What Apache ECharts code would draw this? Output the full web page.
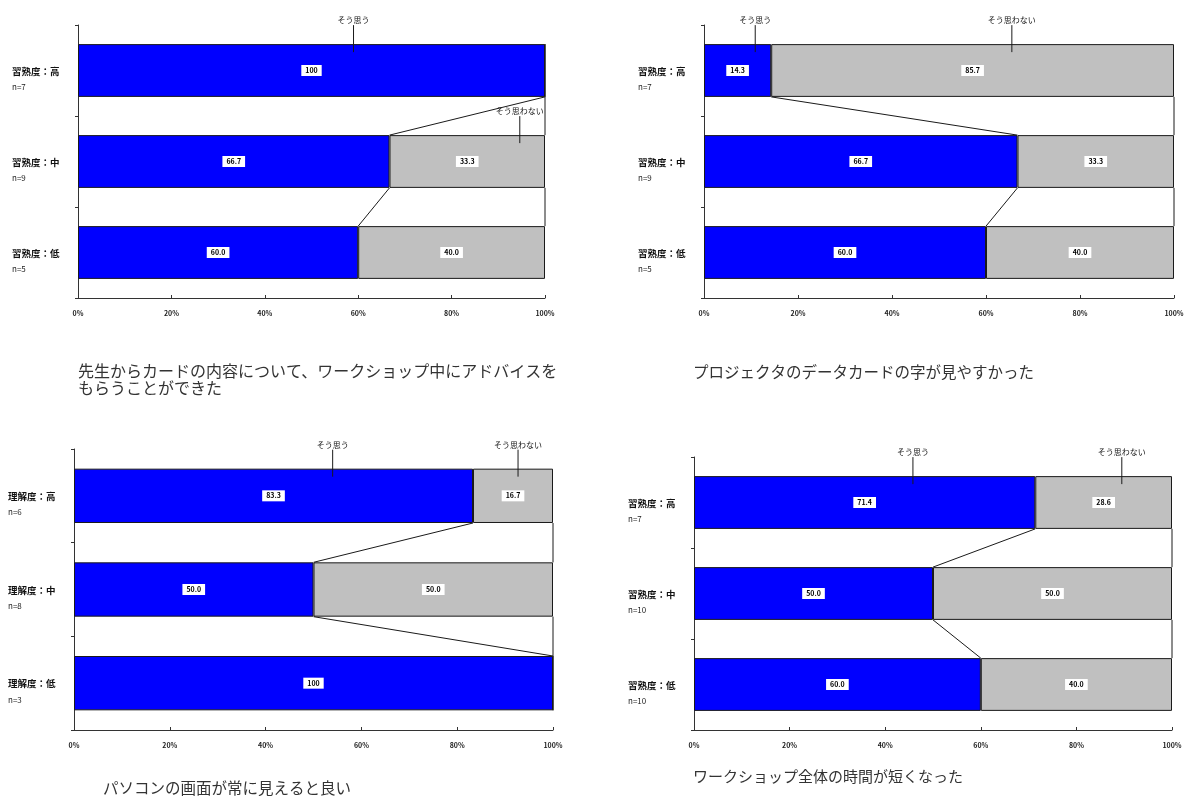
<!DOCTYPE html>
<html>
<head>
<meta charset="utf-8">
<script src="https://cdn.jsdelivr.net/npm/echarts@6/dist/echarts.min.js"></script>
<style>
  html, body { margin: 0; padding: 0; background: #fff; }
  #chart { width: 1189px; height: 796px; }
</style>
</head>
<body>
<div id="chart"></div>
<script>
// Group names and sample sizes
const levelsSkill = ['習熟度：高', '習熟度：中', '習熟度：低'];
const levelsUnderstanding = ['理解度：高', '理解度：中', '理解度：低'];
const sizes1 = ['n=7', 'n=9', 'n=5'];
const sizes2 = ['n=7', 'n=9', 'n=5'];
const sizes3 = ['n=6', 'n=8', 'n=3'];
const sizes4 = ['n=7', 'n=10', 'n=10'];

// Share of answers (%) per group: そう思う / そう思わない
const agree1 = [100, 66.7, 60.0];
const disagree1 = [0, 33.3, 40.0];
const agree2 = [14.3, 66.7, 60.0];
const disagree2 = [85.7, 33.3, 40.0];
const agree3 = [83.3, 50.0, 100];
const disagree3 = [16.7, 50.0, 0];
const agree4 = [71.4, 50.0, 60.0];
const disagree4 = [28.6, 50.0, 40.0];

const seriesNames = ['そう思う', 'そう思わない'];
const tickLabels = ['0%', '20%', '40%', '60%', '80%', '100%'];

const captions = [
  '先生からカードの内容について、ワークショップ中にアドバイスを\nもらうことができた',
  'プロジェクタのデータカードの字が見やすかった',
  'パソコンの画面が常に見えると良い',
  'ワークショップ全体の時間が短くなった'
];

// Plot areas of the four panels
const panels = [
  { grid: { left: 78, top: 25, width: 467, height: 273 }, cats: levelsSkill, sizes: sizes1, agree: agree1, disagree: disagree1,
    callouts: [[59, 0, 0], [94.6, 1, 1]], caption: { x: 78, y: 362, size: 16 } },
  { grid: { left: 704, top: 25, width: 470, height: 273 }, cats: levelsSkill, sizes: sizes2, agree: agree2, disagree: disagree2,
    callouts: [[10.9, 0, 0], [65.5, 0, 1]], caption: { x: 693, y: 364, size: 15.5 } },
  { grid: { left: 74, top: 449, width: 479, height: 281 }, cats: levelsUnderstanding, sizes: sizes3, agree: agree3, disagree: disagree3,
    callouts: [[54, 0, 0], [92.7, 0, 1]], caption: { x: 103, y: 780, size: 15.5 } },
  { grid: { left: 694, top: 457, width: 478, height: 273 }, cats: levelsSkill, sizes: sizes4, agree: agree4, disagree: disagree4,
    callouts: [[45.8, 0, 0], [89.5, 0, 1]], caption: { x: 693, y: 768, size: 15 } }
];

const BAR_RATIO = 0.58;
const BLUE = '#0000FF';
const GRAY = '#C0C0C0';
const LINE = '#1a1a1a';
const JP = '"Noto Sans CJK JP", "Noto Sans", sans-serif';

function fmt(v) { return v === 100 ? '100' : v.toFixed(1); }

function barData(values) {
  return values.map(v => v === 0 ? { value: 0, label: { show: false } } : { value: v });
}

const grid = [], xAxis = [], yAxis = [], series = [], graphic = [];

panels.forEach((p, k) => {
  grid.push(Object.assign({ containLabel: false }, p.grid));
  xAxis.push({
    gridIndex: k, type: 'value', min: 0, max: 100, interval: 20,
    axisLine: { show: true, lineStyle: { color: '#333', width: 1 } },
    axisTick: { show: true, inside: true, length: 3, lineStyle: { color: '#333' } },
    splitLine: { show: false },
    axisLabel: {
      margin: 12, fontSize: 7, fontWeight: 'bold', color: '#222', fontFamily: JP,
      formatter: v => tickLabels[Math.round(v / 20)]
    }
  });
  yAxis.push({
    gridIndex: k, type: 'category', inverse: true, data: p.cats,
    axisLine: { show: true, lineStyle: { color: '#333', width: 1 } },
    axisTick: { show: true, length: 3, lineStyle: { color: '#333' } },
    axisLabel: {
      align: 'left', margin: 66, padding: [16, 0, 0, 0],
      formatter: (v, i) => '{a|' + v + '}\n{b|' + p.sizes[i] + '}',
      rich: {
        a: { fontSize: 9.5, fontWeight: 'bold', color: '#111', fontFamily: JP, lineHeight: 17 },
        b: { fontSize: 8, color: '#222', fontFamily: JP, lineHeight: 15 }
      }
    }
  });

  const labelCfg = {
    show: true, position: 'inside', formatter: d => fmt(d.value),
    backgroundColor: '#fff', padding: [2, 4], fontSize: 7, fontWeight: 'bold', color: '#000', fontFamily: JP
  };
  const stack = 'total' + k;
  series.push({
    name: seriesNames[0], type: 'bar', stack, xAxisIndex: k, yAxisIndex: k,
    barWidth: (BAR_RATIO * 100) + '%', data: barData(p.agree),
    itemStyle: { color: BLUE, borderColor: LINE, borderWidth: 1 },
    label: labelCfg, silent: true, animation: false
  });
  series.push({
    name: seriesNames[1], type: 'bar', stack, xAxisIndex: k, yAxisIndex: k,
    barWidth: (BAR_RATIO * 100) + '%', data: barData(p.disagree),
    itemStyle: { color: GRAY, borderColor: LINE, borderWidth: 1 },
    label: labelCfg, silent: true, animation: false
  });

  // Series lines joining the segment ends of neighbouring bars
  const joins = [];
  for (let i = 0; i < p.agree.length - 1; i++) {
    joins.push([p.agree[i], i, p.agree[i + 1]]);
    joins.push([p.agree[i] + p.disagree[i], i, p.agree[i + 1] + p.disagree[i + 1]]);
  }
  series.push({
    type: 'custom', xAxisIndex: k, yAxisIndex: k, data: joins, clip: false, z: 5,
    encode: { x: [0, 2], y: 1 }, silent: true, animation: false,
    renderItem: (params, api) => {
      const i = api.value(1);
      const a = api.coord([api.value(0), i]);
      const b = api.coord([api.value(2), i + 1]);
      const h = api.size([0, 1])[1] * BAR_RATIO / 2;
      return {
        type: 'line',
        shape: { x1: a[0], y1: a[1] + h, x2: b[0], y2: b[1] - h },
        style: { stroke: LINE, lineWidth: 1 }
      };
    }
  });

  // Series name callouts with leader lines
  series.push({
    type: 'custom', xAxisIndex: k, yAxisIndex: k, data: p.callouts, clip: false, z: 6,
    encode: { x: 0, y: 1 }, silent: true, animation: false,
    renderItem: (params, api) => {
      const pt = api.coord([api.value(0), api.value(1)]);
      const top = pt[1] - api.size([0, 1])[1] * BAR_RATIO / 2;
      const name = seriesNames[api.value(2)];
      return {
        type: 'group',
        children: [
          { type: 'line', shape: { x1: pt[0], y1: top - 19, x2: pt[0], y2: top + 8 },
            style: { stroke: LINE, lineWidth: 1 } },
          { type: 'text', x: pt[0], y: top - 20,
            style: { text: name, fontSize: 8, fill: '#111', fontFamily: JP, align: 'center', verticalAlign: 'bottom' } }
        ]
      };
    }
  });

  graphic.push({
    type: 'text', left: p.caption.x, top: p.caption.y,
    style: { text: captions[k], fontSize: p.caption.size, lineHeight: 17, fill: '#333', fontFamily: JP }
  });
});

const chart = echarts.init(document.getElementById('chart'), null, { renderer: 'canvas' });
chart.setOption({
  backgroundColor: '#fff',
  animation: false,
  grid, xAxis, yAxis, series, graphic
});
</script>
</body>
</html>
